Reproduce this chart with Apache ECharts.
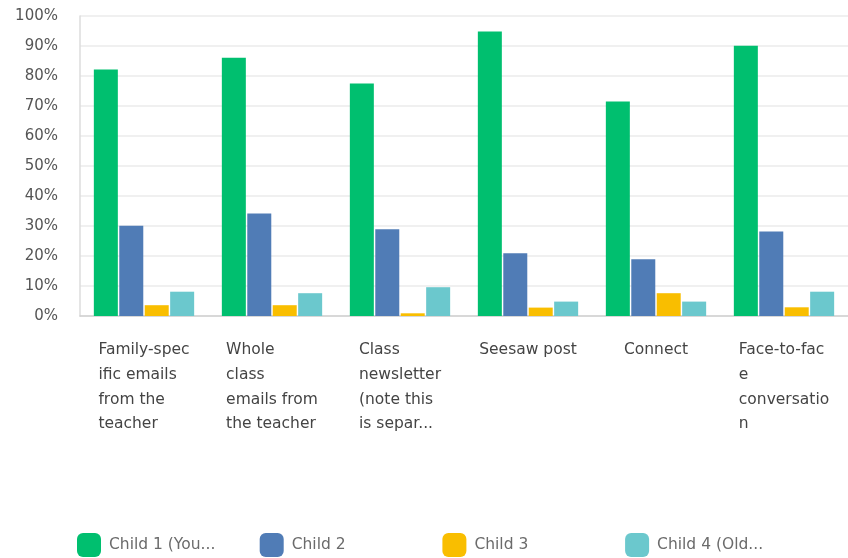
<!DOCTYPE html>
<html>
<head>
<meta charset="utf-8">
<title>Communication by child</title>
<script src="https://cdn.jsdelivr.net/npm/echarts@6/dist/echarts.min.js"></script>
<style>
  html, body { margin: 0; padding: 0; background: #fff; }
  #chart { width: 848px; height: 558px; }
</style>
</head>
<body>
<div id="chart"></div>
<script>
// categories as they are shown under the axis (already wrapped / cut)
var categories = [
  'Family-spec\nific emails\nfrom the\nteacher',
  'Whole\nclass\nemails from\nthe teacher',
  'Class\nnewsletter\n(note this\nis separ...',
  'Seesaw post',
  'Connect',
  'Face-to-fac\ne\nconversatio\nn'
];
var seriesNames = ['Child 1 (You...', 'Child 2', 'Child 3', 'Child 4 (Old...'];
var colors = ['#00bf6f', '#507cb6', '#f9be00', '#6bc8cd'];

// percentages
var child1 = [82.2, 86.1, 77.5, 94.8, 71.5, 90.1];
var child2 = [30.1, 34.2, 28.9, 20.9, 18.9, 28.2];
var child3 = [3.6, 3.6, 0.9, 2.8, 7.6, 2.9];
var child4 = [8.1, 7.6, 9.6, 4.8, 4.8, 8.1];
var seriesData = [child1, child2, child3, child4];

var yTicks = { min: 0, max: 100, interval: 10 };

var chart = echarts.init(document.getElementById('chart'));

var series = seriesNames.map(function (name, i) {
  return {
    name: name,
    type: 'bar',
    data: seriesData[i],
    barWidth: 24,
    barGap: '6%',
    itemStyle: { color: colors[i] }
  };
});

// one legend per series so each item sits in its own fixed slot
var legends = seriesNames.map(function (name, i) {
  return {
    top: 533,
    left: 77 + i * 182.7,
    padding: 0,
    icon: 'roundRect',
    itemWidth: 24,
    itemHeight: 24,
    textStyle: {
      fontFamily: 'DejaVu Sans',
      fontSize: 15.5,
      color: '#6b6b6b',
      padding: [11, 0, 0, 3]
    },
    data: [name]
  };
});

var option = {
  animation: false,
  grid: { left: 80, right: 0, top: 16, bottom: 242 },
  legend: legends,
  xAxis: {
    type: 'category',
    data: categories,
    axisTick: { show: false },
    axisLine: { lineStyle: { color: '#cfcfcf', width: 1.5 } },
    axisLabel: {
      interval: 0,
      margin: 22,
      align: 'center',
      verticalAlign: 'top',
      formatter: function (v) {
        return v.split('\n').map(function (s) { return '{a|' + s + '}'; }).join('\n');
      },
      rich: {
        a: {
          fontFamily: 'DejaVu Sans',
          fontSize: 15.5,
          color: '#444',
          lineHeight: 24.6,
          align: 'left'
        }
      }
    }
  },
  yAxis: {
    type: 'value',
    min: yTicks.min,
    max: yTicks.max,
    interval: yTicks.interval,
    axisLine: { show: true, lineStyle: { color: '#dcdcdc', width: 1.5 } },
    axisTick: { show: false },
    splitLine: { lineStyle: { color: '#ebebeb', width: 1.5 } },
    axisLabel: {
      margin: 22,
      formatter: '{value}%',
      fontFamily: 'DejaVu Sans',
      fontSize: 15,
      color: '#555'
    }
  },
  series: series
};

chart.setOption(option);
</script>
</body>
</html>
